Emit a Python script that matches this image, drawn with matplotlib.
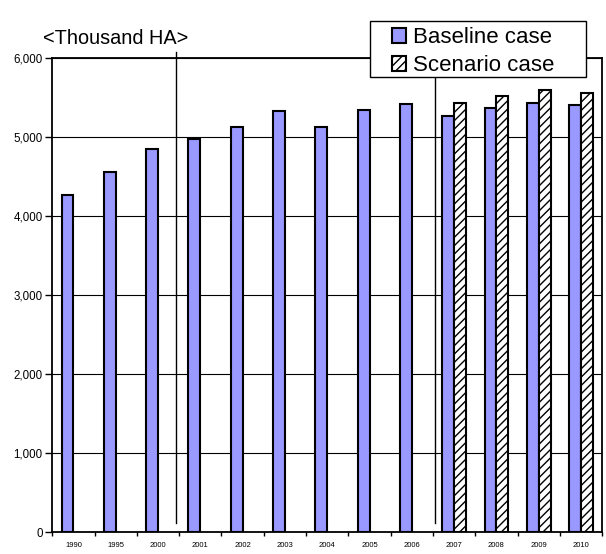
import numpy as np
import matplotlib
matplotlib.use("Agg")
import matplotlib.pyplot as plt
from matplotlib.lines import Line2D
from matplotlib.patches import Rectangle

plt.rcParams['font.family'] = ['Liberation Sans', 'DejaVu Sans']
plt.rcParams['hatch.linewidth'] = 1.0

# Data (thousand HA)
years = ['1990', '1995', '2000', '2001', '2002', '2003', '2004',
         '2005', '2006', '2007', '2008', '2009', '2010']
baseline = [4270, 4560, 4850, 4975, 5125, 5335, 5125,
            5345, 5415, 5275, 5375, 5440, 5410]
scenario = [np.nan] * 9 + [5440, 5525, 5600, 5555]
yticks = [0, 1000, 2000, 3000, 4000, 5000, 6000]

x = np.arange(len(years))
w = 0.28

fig = plt.figure(figsize=(6.06, 5.54), dpi=100)
ax = fig.add_axes([0.0863, 0.0392, 0.9074, 0.8556])

ax.bar(x - w / 2, baseline, w, color='#9999FF', edgecolor='black',
       linewidth=1.5, zorder=3, label='Baseline case')
ax.bar(x + w / 2, scenario, w, color='white', edgecolor='black',
       linewidth=1.5, hatch='////', zorder=3, label='Scenario case')

ax.set_xlim(-0.5, len(years) - 0.5)
ax.set_ylim(0, 6000)
ax.set_yticks(yticks)
ax.set_yticklabels([f'{v:,}' for v in yticks], fontsize=8.3)
ax.yaxis.grid(True, color='black', linewidth=0.8)
ax.set_axisbelow(True)

# year labels at centers, tick marks at category boundaries
ax.set_xticks(x)
ax.set_xticklabels(years, fontsize=5.5)
ax.tick_params(axis='x', which='major', length=0, pad=7)
ax.set_xticks(np.arange(len(years) + 1) - 0.5, minor=True)
ax.tick_params(axis='x', which='minor', length=3, width=1, direction='out')
ax.tick_params(axis='y', length=5, width=1, pad=2)

for s in ax.spines.values():
    s.set_linewidth(1.3)

# period separators
for xs in [2.42, 8.55]:
    ax.add_line(Line2D([xs, xs], [114, 6075], color='black', linewidth=1.0,
                       clip_on=False, zorder=4))

fig.text(0.071, 0.931, '<Thousand HA>', fontsize=14.3, va='center', ha='left')

# legend box
fig.patches.append(Rectangle((370 / 606, 1 - 77 / 554), 216 / 606, 56 / 554,
                             transform=fig.transFigure, facecolor='white',
                             edgecolor='black', linewidth=1.0, zorder=4))
handles, labels = ax.get_legend_handles_labels()
leg = fig.legend(handles, labels, loc='upper left',
                 bbox_to_anchor=(392 / 606, 1 - 27 / 554), fontsize=16,
                 frameon=False, borderpad=0, labelspacing=0.31,
                 handlelength=0.65, handleheight=0.65, handletextpad=0.3,
                 borderaxespad=0)
leg.set_zorder(5)

fig.savefig('out.png', dpi=100)
